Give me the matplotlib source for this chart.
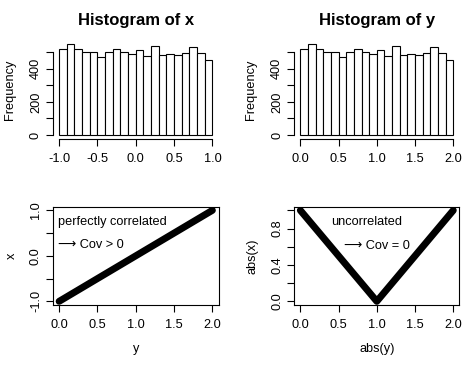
import numpy as np
import matplotlib.pyplot as plt

plt.rcParams["font.family"] = ["Liberation Sans", "DejaVu Sans"]

# histogram counts (20 bins of width 0.1)
counts = [520, 550, 520, 502, 502, 472, 502, 520, 502, 486,
          514, 478, 534, 480, 486, 480, 492, 528, 492, 450]
x_edges = np.round(np.arange(-1.0, 1.01, 0.1), 2)
y_edges = np.round(np.arange(0.0, 2.01, 0.1), 2)

# scatter lines
line_y = [0.0, 2.0]
line_x = [-1.0, 1.0]
abs_y = [0.0, 1.0, 2.0]
abs_x = [1.0, 0.0, 1.0]

x_ticks_left = [-1.0, -0.5, 0.0, 0.5, 1.0]
x_ticks_right = [0.0, 0.5, 1.0, 1.5, 2.0]

FS = 9.2


def r_axes(ax, box=False):
    ax.tick_params(direction="out", length=5, width=0.8, labelsize=FS)
    ax.tick_params(axis="x", pad=5)
    ax.tick_params(axis="y", labelrotation=90, pad=3)
    for lab in ax.get_yticklabels():
        lab.set_va("center")
    if not box:
        ax.spines["top"].set_visible(False)
        ax.spines["right"].set_visible(False)
    for s in ax.spines.values():
        s.set_linewidth(0.8)


def hist_panel(ax, edges, title, xlabel_ticks):
    left = edges[:-1]
    ax.bar(left, counts, width=0.1, align="edge", facecolor="white",
           edgecolor="black", linewidth=0.8)
    lo, hi = edges[0], edges[-1]
    pad = (hi - lo) * 0.04
    ax.set_xlim(lo - pad, hi + pad)
    ax.set_ylim(-550 * 0.04, 550 * 1.04)
    ax.set_yticks([0, 100, 200, 300, 400, 500])
    ax.set_yticklabels(["0", "", "200", "", "400", ""])
    ax.set_xticks(xlabel_ticks)
    ax.set_xticklabels([f"{t:.1f}" for t in xlabel_ticks])
    ax.spines["left"].set_bounds(0, 500)
    ax.spines["bottom"].set_bounds(lo, hi)
    ax.set_ylabel("Frequency", fontsize=FS, labelpad=10)
    ax.set_title(title, fontsize=12, fontweight="bold", pad=11)
    r_axes(ax)


fig = plt.figure(figsize=(4.77, 3.66), dpi=100)
ax1 = fig.add_axes([0.1111, 0.621, 0.347, 0.2697])
ax2 = fig.add_axes([0.6168, 0.621, 0.3463, 0.2697])
ax3 = fig.add_axes([0.1111, 0.1667, 0.347, 0.2686])
ax4 = fig.add_axes([0.6168, 0.1667, 0.3463, 0.2686])

hist_panel(ax1, x_edges, "Histogram of x", x_ticks_left)
hist_panel(ax2, y_edges, "Histogram of y", x_ticks_right)

# bottom left: x vs y
ax3.plot(line_y, line_x, color="black", linewidth=5, solid_capstyle="round")
ax3.set_xlim(-0.08, 2.08)
ax3.set_ylim(-1.08, 1.08)
ax3.set_xticks(x_ticks_right)
ax3.set_xticklabels([f"{t:.1f}" for t in x_ticks_right])
ax3.set_yticks([-1.0, -0.5, 0.0, 0.5, 1.0])
ax3.set_yticklabels(["-1.0", "", "0.0", "", "1.0"])
ax3.set_xlabel("y", fontsize=FS, labelpad=9)
ax3.set_ylabel("x", fontsize=FS, labelpad=9)
ax3.text(-0.02, 0.74, "perfectly correlated", fontsize=FS, va="center", ha="left")
ax3.text(-0.02, 0.23, "\u27f6 Cov > 0", fontsize=FS, va="center", ha="left")
r_axes(ax3, box=True)

# bottom right: abs(x) vs abs(y)
ax4.plot(abs_y, abs_x, color="black", linewidth=5, solid_capstyle="round")
ax4.set_xlim(-0.08, 2.08)
ax4.set_ylim(-0.04, 1.04)
ax4.set_xticks(x_ticks_right)
ax4.set_xticklabels([f"{t:.1f}" for t in x_ticks_right])
ax4.set_yticks([0.0, 0.2, 0.4, 0.6, 0.8, 1.0])
ax4.set_yticklabels(["0.0", "", "0.4", "", "0.8", ""])
ax4.set_xlabel("abs(y)", fontsize=FS, labelpad=9)
ax4.set_ylabel("abs(x)", fontsize=FS, labelpad=9)
ax4.text(0.87, 0.87, "uncorrelated", fontsize=FS, va="center", ha="center")
ax4.text(1.0, 0.61, "\u27f6 Cov = 0", fontsize=FS, va="center", ha="center")
r_axes(ax4, box=True)

fig.savefig("out.png", dpi=100)
